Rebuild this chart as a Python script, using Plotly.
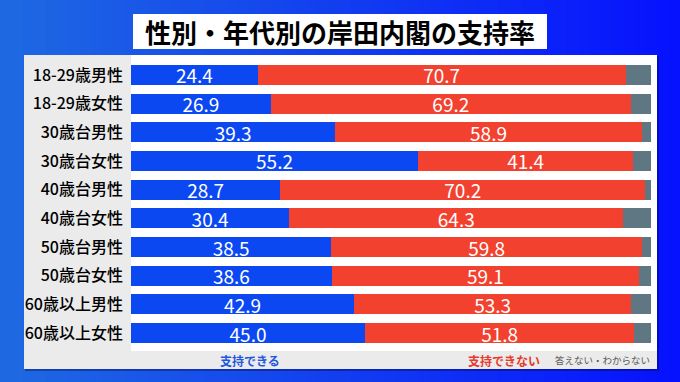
import plotly.graph_objects as go

categories = ["18-29歳男性", "18-29歳女性", "30歳台男性", "30歳台女性", "40歳台男性",
              "40歳台女性", "50歳台男性", "50歳台女性", "60歳以上男性", "60歳以上女性"]
support = [24.4, 26.9, 39.3, 55.2, 28.7, 30.4, 38.5, 38.6, 42.9, 45.0]
oppose = [70.7, 69.2, 58.9, 41.4, 70.2, 64.3, 59.8, 59.1, 53.3, 51.8]
other = [round(100 - s - o, 1) for s, o in zip(support, oppose)]
series_names = ["支持できる", "支持できない", "答えない・わからない"]
title_text = "性別・年代別の岸田内閣の支持率"

W, H = 680, 382
FONT = "Noto Sans CJK JP"
BLUE = "#0c48f2"
RED = "#f2412f"
GRAY = "#5f7683"

def px(x):
    return x / W

def py(y):
    return 1 - y / H

fig = go.Figure()
fig.add_trace(go.Bar(y=categories, x=support, orientation="h", name=series_names[0],
                     marker=dict(color=BLUE, line=dict(width=0)),
                     text=[f"{v:.1f}" for v in support], textposition="inside",
                     insidetextanchor="middle", textangle=0,
                     textfont=dict(color="white", size=19, family=FONT)))
fig.add_trace(go.Bar(y=categories, x=oppose, orientation="h", name=series_names[1],
                     marker=dict(color=RED, line=dict(width=0)),
                     text=[f"{v:.1f}" for v in oppose], textposition="inside",
                     insidetextanchor="middle", textangle=0,
                     textfont=dict(color="white", size=19, family=FONT)))
fig.add_trace(go.Bar(y=categories, x=other, orientation="h", name=series_names[2],
                     marker=dict(color=GRAY, line=dict(width=0)),
                     hoverinfo="x+y"))

shapes = []
# background gradient
n = 60
c0 = (30, 105, 226)
c1 = (6, 18, 254)
for i in range(n):
    t = i / (n - 1)
    c = tuple(int(round(c0[k] + (c1[k] - c0[k]) * t)) for k in range(3))
    shapes.append(dict(type="rect", xref="paper", yref="paper", x0=i / n, x1=(i + 1) / n + 0.002,
                       y0=0, y1=1, fillcolor=f"rgb{c}", line=dict(width=0), layer="below"))
# panel shadow
shapes.append(dict(type="rect", xref="paper", yref="paper", x0=px(25), x1=px(659), y0=py(371), y1=py(56),
                   fillcolor="rgba(0,0,60,0.35)", line=dict(width=0), layer="below"))
# panel
shapes.append(dict(type="rect", xref="paper", yref="paper", x0=px(24), x1=px(657), y0=py(369), y1=py(55),
                   fillcolor="white", line=dict(width=0), layer="below"))
# label column
shapes.append(dict(type="rect", xref="paper", yref="paper", x0=px(24), x1=px(131), y0=py(369), y1=py(55),
                   fillcolor="#ebebeb", line=dict(width=0), layer="below"))
# bottom legend strip
shapes.append(dict(type="rect", xref="paper", yref="paper", x0=px(131), x1=px(657), y0=py(369), y1=py(351),
                   fillcolor="#ebebeb", line=dict(width=0), layer="below"))
# title box
shapes.append(dict(type="rect", xref="paper", yref="paper", x0=px(133), x1=px(547), y0=py(49), y1=py(14),
                   fillcolor="white", line=dict(width=0), layer="below"))

annotations = [
    dict(text=f"<b>{title_text}</b>", xref="paper", yref="paper", x=px(340), y=py(32),
         xanchor="center", yanchor="middle", showarrow=False,
         font=dict(family=FONT, size=26, color="black")),
    dict(text=f"<b>{series_names[0]}</b>", xref="paper", yref="paper", x=px(250), y=py(360),
         xanchor="center", yanchor="middle", showarrow=False,
         font=dict(family=FONT, size=12, color="#1f58e0")),
    dict(text=f"<b>{series_names[1]}</b>", xref="paper", yref="paper", x=px(504), y=py(360),
         xanchor="center", yanchor="middle", showarrow=False,
         font=dict(family=FONT, size=12, color="#e63a2c")),
    dict(text=series_names[2], xref="paper", yref="paper", x=px(652), y=py(360),
         xanchor="right", yanchor="middle", showarrow=False,
         font=dict(family=FONT, size=9.5, color="#555555")),
]

fig.update_layout(
    width=W, height=H,
    margin=dict(l=0, r=0, t=0, b=0),
    paper_bgcolor="rgb(15,60,240)",
    plot_bgcolor="rgba(0,0,0,0)",
    barmode="stack",
    bargap=0.3,
    showlegend=False,
    shapes=shapes,
    annotations=annotations,
    uniformtext=dict(mode="show", minsize=19),
    xaxis=dict(domain=[px(131), px(651)], range=[0, 100], visible=False, fixedrange=True),
    yaxis=dict(domain=[py(347.4), py(60.6)], autorange="reversed", showgrid=False,
               zeroline=False, showline=False, ticks="", ticklabelstandoff=7, fixedrange=True,
               tickfont=dict(family=FONT, size=16, color="black", weight=500)),
)

fig.write_html("out.html", config={"displayModeBar": False},
               post_script="document.body.style.margin='0';")
